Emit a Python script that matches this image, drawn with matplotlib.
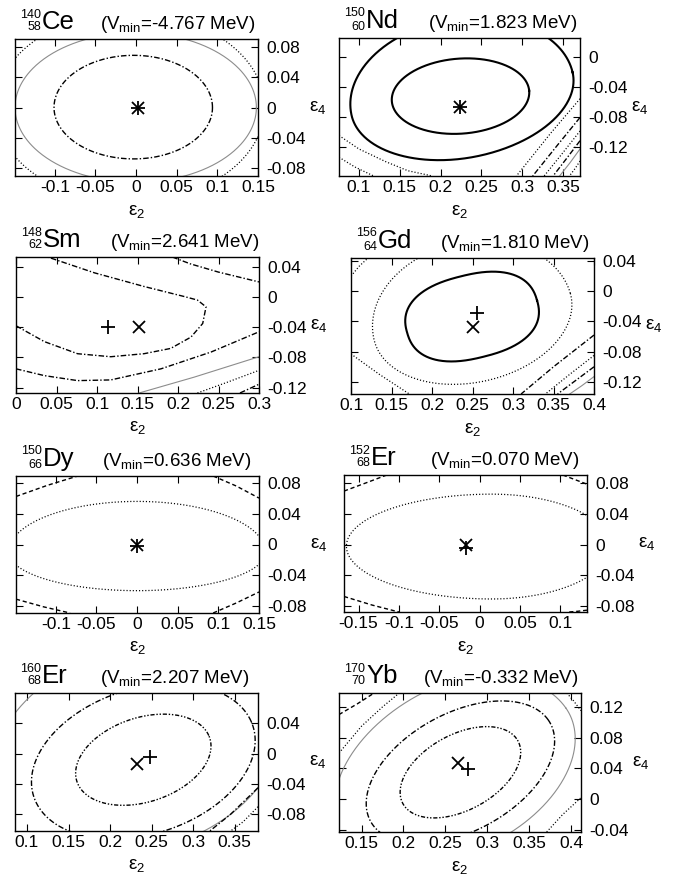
import numpy as np
import matplotlib
matplotlib.use('Agg')
import matplotlib.pyplot as plt

plt.rcParams['font.family'] = ['Liberation Sans', 'DejaVu Sans']
plt.rcParams['mathtext.fontset'] = 'custom'
plt.rcParams['mathtext.rm'] = 'Liberation Sans'
plt.rcParams['mathtext.it'] = 'Liberation Sans:italic'
plt.rcParams['axes.unicode_minus'] = False

W, H = 678, 877

# ---- data ------------------------------------------------------------------
elements = ['Ce', 'Nd', 'Sm', 'Gd', 'Dy', 'Er', 'Er', 'Yb']
mass_numbers = [140, 150, 148, 156, 150, 152, 160, 170]
proton_numbers = [58, 60, 62, 64, 66, 68, 68, 70]
vmin_mev = ['-4.767', '1.823', '2.641', '1.810', '0.636', '0.070', '2.207', '-0.332']

eps2_range = [(-0.149, 0.15), (0.0755, 0.371), (0.0, 0.3), (0.1, 0.4),
              (-0.149, 0.15), (-0.168, 0.133), (0.0856, 0.378), (0.123, 0.412)]
eps4_range = [(-0.0906, 0.0906), (-0.159, 0.025), (-0.127, 0.053), (-0.136, 0.044),
              (-0.089, 0.089), (-0.088, 0.091), (-0.102, 0.08), (-0.0426, 0.138)]
eps2_ticks = [[-0.1, -0.05, 0, 0.05, 0.1, 0.15],
              [0.1, 0.15, 0.2, 0.25, 0.3, 0.35],
              [0, 0.05, 0.1, 0.15, 0.2, 0.25, 0.3],
              [0.1, 0.15, 0.2, 0.25, 0.3, 0.35, 0.4],
              [-0.1, -0.05, 0, 0.05, 0.1, 0.15],
              [-0.15, -0.1, -0.05, 0, 0.05, 0.1],
              [0.1, 0.15, 0.2, 0.25, 0.3, 0.35],
              [0.15, 0.2, 0.25, 0.3, 0.35, 0.4]]
eps4_ticks = [[-0.08, -0.04, 0, 0.04, 0.08],
              [-0.12, -0.08, -0.04, 0],
              [-0.12, -0.08, -0.04, 0, 0.04],
              [-0.12, -0.08, -0.04, 0, 0.04],
              [-0.08, -0.04, 0, 0.04, 0.08],
              [-0.08, -0.04, 0, 0.04, 0.08],
              [-0.08, -0.04, 0, 0.04],
              [-0.04, 0, 0.04, 0.08, 0.12]]

# minima: '+' and 'x' symbols (eps2, eps4)
plus_min = [(0.002, 0.0), (0.224, -0.067), (0.113, -0.039), (0.256, -0.029),
            (0.0, -0.002), (-0.017, -0.004), (0.248, -0.004), (0.277, 0.039)]
cross_min = [(0.002, 0.0), (0.224, -0.067), (0.152, -0.039), (0.250, -0.047),
             (0.0, 0.0), (-0.017, 0.0), (0.232, -0.013), (0.265, 0.047)]

# closed contours: (c2, c4, a_left, a_right, b_down, b_up, tilt deg, squareness)
closed_contours = [
    [(-0.003, 0.0, 0.098, 0.097, 0.068, 0.069, 0, 2),
     (0.0, 0.0, 0.149, 0.148, 0.099, 0.099, 0, 2),
     (-0.008, 0.0, 0.165, 0.166, 0.125, 0.125, 0, 2)],
    [(0.2245, -0.0525, 0.0845, 0.0845, 0.050, 0.050, 5, 2),
     (0.225, -0.05, 0.137, 0.14, 0.085, 0.10, 12, 2)],
    [],
    [(0.2495, -0.0335, 0.083, 0.083, 0.055, 0.055, 15, 2.4),
     (0.25, -0.035, 0.125, 0.125, 0.085, 0.10, 15, 2)],
    [(0.0, -0.01, 0.158, 0.158, 0.05, 0.066, 0, 2)],
    [(0.015, -0.002, 0.18, 0.146, 0.069, 0.068, 0, 2)],
    [(0.24, -0.008, 0.085, 0.085, 0.055, 0.055, 22, 2),
     (0.24, -0.01, 0.14, 0.14, 0.095, 0.095, 22, 2),
     (0.24, -0.01, 0.19, 0.168, 0.115, 0.15, 22, 2)],
    [(0.268, 0.035, 0.08, 0.08, 0.048, 0.048, 33, 2),
     (0.268, 0.035, 0.125, 0.125, 0.075, 0.075, 33, 2),
     (0.268, 0.037, 0.165, 0.15, 0.10, 0.11, 33, 2)],
]
closed_kinds = [['dashdot', 'gray', 'dot'],
                ['solid', 'solid'],
                [],
                ['solid', 'dot'],
                ['dot'],
                ['dot'],
                ['dashdotdot', 'dashdot', 'gray'],
                ['dashdotdot', 'dashdot', 'gray']]

# open contour pieces traced where they cross the frame
open_contours = [
    [],
    [[(0.0755, -0.105), (0.10, -0.123), (0.133, -0.140), (0.160, -0.152), (0.19, -0.159)],
     [(0.0755, -0.134), (0.095, -0.147), (0.118, -0.159)],
     [(0.371, -0.056), (0.335, -0.102), (0.293, -0.159)],
     [(0.371, -0.081), (0.344, -0.117), (0.313, -0.159)],
     [(0.371, -0.099), (0.350, -0.128), (0.327, -0.159)],
     [(0.371, -0.112), (0.355, -0.135), (0.338, -0.159)],
     [(0.371, -0.123), (0.359, -0.141), (0.346, -0.159)],
     [(0.371, -0.139), (0.365, -0.149), (0.358, -0.159)]],
    [[(0.0, -0.038), (0.035, -0.059), (0.076, -0.075), (0.117, -0.079), (0.158, -0.075),
      (0.191, -0.068), (0.216, -0.053), (0.2305, -0.035), (0.2346, -0.013),
      (0.224, -0.004), (0.208, 0.0006), (0.158, 0.014), (0.097, 0.032), (0.039, 0.053)],
     [(0.193, 0.053), (0.215, 0.044), (0.25, 0.033), (0.3, 0.02)],
     [(0.0, -0.095), (0.035, -0.104), (0.076, -0.1106), (0.117, -0.1097), (0.179, -0.095),
      (0.241, -0.0727), (0.3, -0.046)],
     [(0.152, -0.127), (0.22, -0.106), (0.3, -0.079)],
     [(0.224, -0.127), (0.261, -0.1127), (0.3, -0.097)],
     [(0.2765, -0.127), (0.3, -0.1154)]],
    [[(0.1, 0.02), (0.11, 0.033), (0.121, 0.044)],
     [(0.1, -0.083), (0.135, -0.11), (0.172, -0.136)],
     [(0.4, -0.058), (0.35, -0.1), (0.31, -0.136)],
     [(0.4, -0.085), (0.37, -0.11), (0.34, -0.136)],
     [(0.4, -0.1), (0.375, -0.12), (0.355, -0.136)],
     [(0.4, -0.113), (0.385, -0.125), (0.37, -0.136)]],
    [[(-0.149, 0.0624), (-0.11, 0.077), (-0.073, 0.089)],
     [(0.0936, 0.089), (0.122, 0.076), (0.15, 0.0603)],
     [(-0.149, -0.071), (-0.115, -0.081), (-0.0825, -0.089)],
     [(0.0936, -0.089), (0.122, -0.076), (0.15, -0.0617)]],
    [[(-0.168, 0.07), (-0.14, 0.081), (-0.115, 0.091)],
     [(0.103, 0.091), (0.118, 0.085), (0.133, 0.079)],
     [(-0.168, -0.0677), (-0.133, -0.079), (-0.1, -0.088)],
     [(0.111, -0.088), (0.122, -0.087), (0.133, -0.0856)]],
    [[(0.378, -0.045), (0.345, -0.08), (0.32, -0.102)],
     [(0.378, -0.07), (0.36, -0.09), (0.345, -0.102)]],
    [[(0.123, 0.11), (0.145, 0.124), (0.165, 0.138)],
     [(0.123, 0.06), (0.15, 0.095), (0.175, 0.12), (0.195, 0.138)],
     [(0.395, 0.138), (0.403, 0.128), (0.412, 0.115)],
     [(0.371, -0.0426), (0.39, -0.02), (0.412, 0.002)]],
]
open_kinds = [[],
              ['dot', 'dot', 'dot', 'dashdot', 'dot', 'dashdot', 'gray', 'dot'],
              ['dashdot', 'dashdot', 'dashdot', 'gray', 'dot', 'dashdot'],
              ['dot', 'dot', 'dashdot', 'dot', 'dashdot', 'gray'],
              ['dash', 'dash', 'dash', 'dash'],
              ['dash', 'dash', 'dash', 'dash'],
              ['dashdot', 'dot'],
              ['dash', 'dot', 'dot', 'dot']]

# ---- layout (pixel boxes: left, top, right, bottom) ------------------------
boxes = [(15, 39, 258, 176), (339, 38, 580, 176),
         (16, 257, 259, 393), (351, 258, 594, 394),
         (16, 476, 259, 613), (344, 475, 587, 612),
         (15, 693, 258, 831), (339, 693, 581, 832)]
vmin_x = [100, 428, 110, 440, 102, 430, 100, 423]

LINE = {
    'solid': dict(color='black', lw=1.5, ls='-'),
    'dot': dict(color='black', lw=0.9, ls=(0, (0.9, 1.6))),
    'dashdot': dict(color='black', lw=1.0, ls=(0, (4, 1.5, 1, 1.5))),
    'dashdotdot': dict(color='black', lw=1.0, ls=(0, (3, 1.3, 1, 1.3, 1, 1.3))),
    'dash': dict(color='black', lw=1.0, ls=(0, (3, 2))),
    'gray': dict(color='#8c8c8c', lw=0.8, ls='-'),
}


def contour_curve(c2, c4, al, ar, bd, bu, tilt, p):
    th = np.linspace(0, 2 * np.pi, 600)
    c, s = np.cos(th), np.sin(th)
    a = np.where(c >= 0, ar, al)
    b = np.where(s >= 0, bu, bd)
    u = a * np.sign(c) * np.abs(c) ** (2.0 / p)
    v = b * np.sign(s) * np.abs(s) ** (2.0 / p)
    t = np.radians(tilt)
    return c2 + u * np.cos(t) - v * np.sin(t), c4 + u * np.sin(t) + v * np.cos(t)


def px_fig(x, y):
    return x / W, 1 - y / H


fig = plt.figure(figsize=(W / 100, H / 100), dpi=100)

for i in range(8):
    l, t, r, b = boxes[i]
    ax = fig.add_axes([l / W, 1 - b / H, (r - l) / W, (b - t) / H])

    for cc, kind in zip(closed_contours[i], closed_kinds[i]):
        x, y = contour_curve(*cc)
        ax.plot(x, y, **LINE[kind])
    for pts, kind in zip(open_contours[i], open_kinds[i]):
        pts = np.array(pts)
        ax.plot(pts[:, 0], pts[:, 1], **LINE[kind])

    ax.plot(*plus_min[i], marker='+', color='black', ms=10, mew=1.3)
    ax.plot(*cross_min[i], marker='x', color='black', ms=8, mew=1.3)

    ax.set_xlim(*eps2_range[i])
    ax.set_ylim(*eps4_range[i])
    ax.set_xticks(eps2_ticks[i])
    ax.set_yticks(eps4_ticks[i])
    ax.set_xticklabels(['%g' % v for v in eps2_ticks[i]])
    ax.set_yticklabels(['%g' % v for v in eps4_ticks[i]])
    ax.tick_params(direction='in', length=5, width=0.8, top=True, right=True,
                   labelleft=False, labelright=True, labelsize=12.5)
    ax.tick_params(axis='x', pad=3)
    ax.tick_params(axis='y', pad=6)
    for sp in ax.spines.values():
        sp.set_linewidth(1.0)

    # axis labels
    fig.text(*px_fig((l + r) / 2, b + 35), 'ε$_2$', fontsize=13.5,
             ha='center', va='center')
    fig.text(*px_fig(r + 60, (t + b) / 2), 'ε$_4$', fontsize=13.5,
             ha='center', va='center')

    # nucleus label and Vmin
    xn = l + 26
    fig.text(*px_fig(xn, t - 21.5), str(mass_numbers[i]), fontsize=9,
             ha='right', va='baseline')
    fig.text(*px_fig(xn, t - 17.5), str(proton_numbers[i]), fontsize=9,
             ha='right', va='top')
    fig.text(*px_fig(xn + 1, t - 10), elements[i], fontsize=18.5,
             ha='left', va='baseline')
    fig.text(*px_fig(vmin_x[i], t - 10),
             '(V$_{\\mathrm{min}}$=%s MeV)' % vmin_mev[i], fontsize=13.5,
             ha='left', va='baseline')

fig.savefig('out.png', dpi=100)
